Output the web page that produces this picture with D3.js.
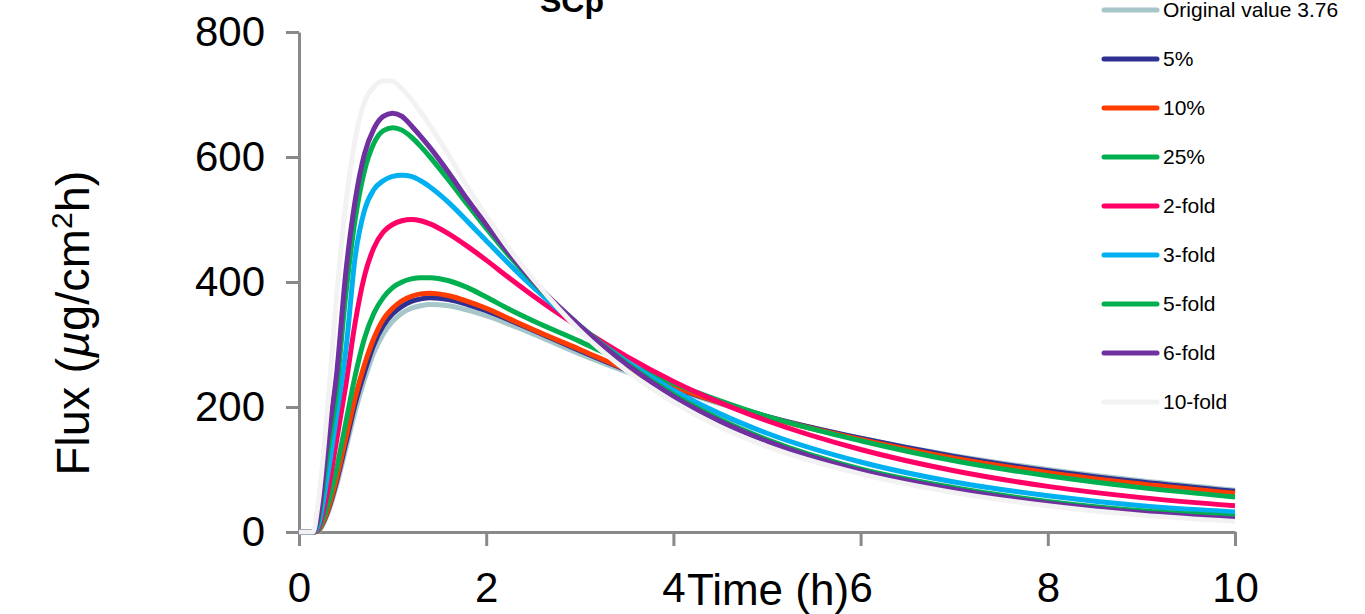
<!DOCTYPE html>
<html>
<head>
<meta charset="utf-8">
<script src="https://cdn.jsdelivr.net/npm/d3@7"></script>
<style>
  body { margin: 0; background: #fff; }
  svg { display: block; font-family: Arial, 'Liberation Sans', sans-serif; }
</style>
</head>
<body>
<div id="chart"></div>
<script>
// time points (h)
const times = [0, 0.15, 0.2, 0.3, 0.4, 0.5, 0.6, 0.7, 0.8, 0.9, 1.0, 1.1, 1.2, 1.3, 1.4, 1.6, 1.8, 2.0, 2.25, 2.5, 3.0, 3.5, 4.0, 4.5, 5.0, 6.0, 7.0, 8.0, 9.0, 10.0];

const seriesNames = ['Original value 3.76', '5%', '10%', '25%', '2-fold', '3-fold', '5-fold', '6-fold', '10-fold'];
const seriesColors = ['#a6c6ca', '#2e3192', '#ff3c00', '#00b050', '#ff0066', '#00b0f0', '#00b050', '#7030a0', '#f2f2f2'];

// flux values, one array per series
const original = [0, 0, 1, 27, 74, 133, 193, 244, 287, 317, 337, 350, 358, 362, 364, 362, 355, 346, 332, 317, 285, 256, 229, 205, 184, 150, 122, 100, 82, 67];
const pct5 = [0, 0, 2, 30, 80, 142, 205, 256, 300, 330, 349, 361, 369, 373, 375, 372, 364, 354, 339, 323, 290, 259, 231, 207, 185, 150, 121, 98, 80, 65];
const pct10 = [0, 0, 2, 32, 85, 150, 215, 268, 310, 340, 358, 370, 377, 381, 382, 378, 369, 358, 341, 324, 292, 260, 232, 207, 184, 148, 118, 95, 77, 62];
const pct25 = [0, 0, 3, 40, 100, 175, 250, 310, 350, 375, 391, 400, 405, 407, 407, 402, 391, 376, 356, 338, 305, 270, 238, 210, 185, 146, 114, 90, 71, 56];
const fold2 = [0, 0, 5, 60, 145, 235, 335, 410, 455, 480, 492, 498, 500, 498, 493, 477, 457, 435, 406, 378, 327, 281, 241, 207, 178, 132, 98, 73, 55, 42];
const fold3 = [0, 0, 8, 85, 185, 290, 440, 515, 548, 562, 569, 571, 569, 562, 552, 527, 497, 466, 428, 392, 328, 273, 227, 189, 158, 112, 80, 58, 42, 32];
const fold5 = [0, 0, 15, 120, 225, 380, 500, 578, 622, 642, 647, 643, 632, 617, 600, 563, 524, 486, 441, 400, 330, 270, 220, 180, 148, 101, 71, 49, 34, 25];
const fold6 = [0, 0, 20, 140, 250, 415, 530, 605, 645, 665, 670, 665, 650, 633, 615, 575, 532, 492, 445, 402, 330, 268, 217, 177, 145, 98, 68, 46, 31, 21];
const fold10 = [0, 0, 40, 190, 375, 525, 628, 688, 712, 722, 721, 709, 692, 672, 650, 603, 552, 506, 452, 405, 322, 258, 208, 168, 137, 93, 63, 42, 27, 17];

const seriesValues = [original, pct5, pct10, pct25, fold2, fold3, fold5, fold6, fold10];

const xTicks = [0, 2, 4, 6, 8, 10];
const yTicks = [0, 200, 400, 600, 800];

const width = 1365;
const height = 614;
const axisColor = '#898989';

const svg = d3.select('#chart')
  .append('svg')
  .attr('width', width)
  .attr('height', height);

const x = d3.scaleLinear().domain([0, 10]).range([299, 1235]);
const y = d3.scaleLinear().domain([0, 800]).range([532, 32]);

// axes
const xAxis = svg.append('g')
  .attr('transform', `translate(0, ${y(0)})`)
  .call(d3.axisBottom(x).tickValues(xTicks).tickSize(14).tickSizeOuter(0).tickPadding(26));

const yAxis = svg.append('g')
  .attr('transform', `translate(${x(0)}, 0)`)
  .call(d3.axisLeft(y).tickValues(yTicks).tickSize(13).tickSizeOuter(0).tickPadding(21));

[xAxis, yAxis].forEach(a => {
  a.selectAll('path, line').attr('stroke', axisColor).attr('stroke-width', 3);
  a.selectAll('text')
    .attr('fill', '#000')
    .style('font-size', '42px')
    .style('font-family', 'Arial, "Liberation Sans", sans-serif');
});

// axis titles
svg.append('text')
  .attr('x', 768)
  .attr('y', 605)
  .attr('text-anchor', 'middle')
  .style('font-size', '44px')
  .text('Time (h)');

const yTitle = svg.append('text')
  .attr('transform', 'translate(89, 323) rotate(-90)')
  .attr('text-anchor', 'middle')
  .style('font-size', '47px');
yTitle.append('tspan').text('Flux (');
yTitle.append('tspan').style('font-style', 'italic').text('\u00b5');
yTitle.append('tspan').text('g/cm');
yTitle.append('tspan').attr('dy', -17).style('font-size', '30px').text('2');
yTitle.append('tspan').attr('dy', 17).text('h)');

// chart title (cut by the top edge)
svg.append('text')
  .attr('x', 572)
  .attr('y', 12)
  .attr('text-anchor', 'middle')
  .style('font-size', '32px')
  .style('font-weight', 'bold')
  .text('SCp');

// curves
const line = d3.line()
  .x((d, i) => x(times[i]))
  .y(d => y(d))
  .curve(d3.curveMonotoneX);

svg.append('g')
  .selectAll('path')
  .data(seriesValues)
  .join('path')
  .attr('d', line)
  .attr('fill', 'none')
  .attr('stroke', (d, i) => seriesColors[i])
  .attr('stroke-width', 5)
  .attr('stroke-linejoin', 'round');

// legend
const legend = svg.append('g');
seriesNames.forEach((name, i) => {
  const row = legend.append('g').attr('transform', `translate(0, ${10 + i * 49})`);
  row.append('line')
    .attr('x1', 1104)
    .attr('x2', 1157)
    .attr('stroke', seriesColors[i])
    .attr('stroke-width', 5)
    .attr('stroke-linecap', 'round');
  row.append('text')
    .attr('x', 1163)
    .attr('dy', '0.35em')
    .style('font-size', '21px')
    .text(name);
});
</script>
</body>
</html>
